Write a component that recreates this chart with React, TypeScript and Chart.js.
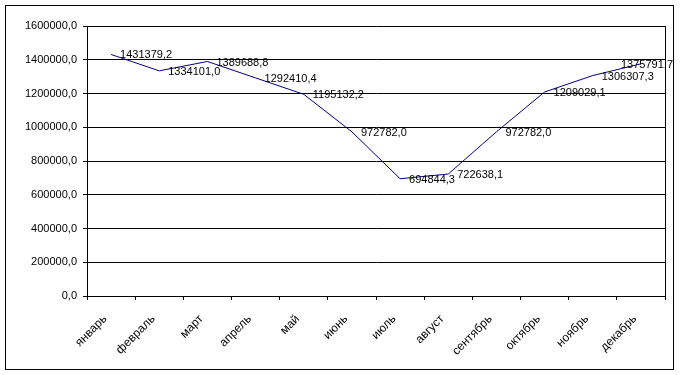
import React, { useEffect, useRef } from "react";
import { Chart, registerables } from "chart.js";

Chart.register(...registerables);

const months = [
  "январь", "февраль", "март", "апрель", "май", "июнь",
  "июль", "август", "сентябрь", "октябрь", "ноябрь", "декабрь",
];
const values = [
  1431379.2, 1334101.0, 1389688.8, 1292410.4, 1195132.2, 972782.0,
  694844.3, 722638.1, 972782.0, 1209029.1, 1306307.3, 1375791.7,
];
const yMin = 0;
const yMax = 1600000;
const yStep = 200000;

const FONT = "Arial, 'Liberation Sans', sans-serif";
const fmt = (v: number) => v.toFixed(1).replace(".", ",");

const framePlugin = {
  id: "frame",
  afterDraw(chart: any) {
    const { ctx, chartArea } = chart;
    ctx.save();
    ctx.strokeStyle = "#000";
    ctx.lineWidth = 1;
    ctx.beginPath();
    ctx.moveTo(Math.round(chartArea.right) + 0.5, chartArea.top);
    ctx.lineTo(Math.round(chartArea.right) + 0.5, chartArea.bottom + 4);
    ctx.stroke();
    ctx.strokeRect(5.5, 5.5, 668, 364);
    // data labels
    const meta = chart.getDatasetMeta(0);
    ctx.font = "11px " + FONT;
    ctx.fillStyle = "#000";
    ctx.textBaseline = "middle";
    ctx.textAlign = "left";
    meta.data.forEach((pt: any, i: number) => {
      const txt = fmt(values[i]);
      const w = ctx.measureText(txt).width;
      let x = pt.x + 9;
      if (x + w > 673) x = 673 - w;
      ctx.fillText(txt, x, pt.y + 1);
    });
    ctx.restore();
  },
};

export default function App() {
  const ref = useRef<HTMLCanvasElement>(null);
  useEffect(() => {
    document.body.style.margin = "0";
    const chart = new Chart(ref.current!, {
      type: "line",
      data: {
        labels: months,
        datasets: [
          {
            data: values,
            borderColor: "#000080",
            borderWidth: 1,
            pointRadius: 0,
            tension: 0,
            fill: false,
          },
        ],
      },
      options: {
        animation: false,
        responsive: false,
        devicePixelRatio: 1,
        layout: { padding: { left: 0, right: 15, top: 26, bottom: 0 } },
        plugins: { legend: { display: false }, tooltip: { enabled: false } },
        scales: {
          x: {
            offset: true,
            afterFit: (s: any) => { s.height = 375 - 296; },
            grid: {
              offset: true,
              drawOnChartArea: false,
              drawTicks: true,
              tickLength: 4,
              color: "#000",
            },
            border: { display: true, color: "#000" },
            ticks: {
              autoSkip: false,
              maxRotation: 45,
              minRotation: 45,
              padding: 12,
              labelOffset: -6,
              color: "#000",
              font: { family: FONT, size: 12 },
            },
          },
          y: {
            min: yMin,
            max: yMax,
            afterFit: (s: any) => { s.width = 87; },
            grid: { color: "#000", tickLength: 4, drawTicks: true },
            border: { display: true, color: "#000" },
            ticks: {
              stepSize: yStep,
              padding: 6,
              color: "#000",
              font: { family: FONT, size: 11 },
              callback: (v: any) => fmt(Number(v)),
            },
          },
        },
      },
      plugins: [framePlugin],
    });
    return () => chart.destroy();
  }, []);
  return <canvas ref={ref} width={680} height={375} style={{ display: "block" }} />;
}
